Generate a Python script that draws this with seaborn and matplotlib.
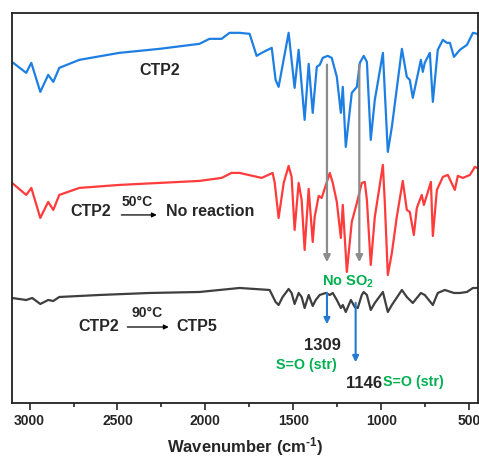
import matplotlib
matplotlib.use("Agg")
import matplotlib.pyplot as plt
import seaborn as sns
import pandas as pd
import numpy as np

# ---- data (wavenumber in cm-1, stacked transmittance in arbitrary units) ----
blue_wn = [3100, 3019, 2990, 2939, 2894, 2865, 2831, 2717, 2489, 2261, 2034, 1977, 1908,
           1863, 1806, 1749, 1709, 1680, 1623, 1601, 1584, 1527, 1493, 1470, 1436, 1413,
           1390, 1367, 1350, 1333, 1305, 1282, 1253, 1230, 1219, 1202, 1168, 1139, 1122,
           1100, 1082, 1060, 1037, 991, 963, 940, 883, 855, 838, 821, 775, 764, 753, 724,
           707, 679, 650, 627, 610, 587, 553, 513, 479, 455]
blue_t = [341, 330, 340, 311, 328, 321, 335, 343, 350, 354, 359, 364, 364,
          370, 370, 369, 347, 350, 355, 323, 316, 370, 315, 353, 283, 339,
          290, 336, 338, 345, 347, 345, 326, 290, 316, 256, 310, 316, 340,
          347, 341, 263, 303, 350, 251, 276, 354, 326, 323, 305, 343, 331, 340, 350,
          301, 353, 363, 360, 360, 346, 353, 358, 370, 369]

red_wn = [3100, 3019, 2990, 2939, 2894, 2865, 2831, 2717, 2489, 2261, 2034, 1908, 1852,
          1806, 1680, 1618, 1606, 1584, 1555, 1527, 1510, 1493, 1470, 1453, 1436, 1413,
          1390, 1379, 1356, 1339, 1293, 1276, 1253, 1230, 1219, 1196, 1168, 1139, 1111,
          1094, 1082, 1060, 1037, 991, 980, 963, 940, 912, 878, 855, 838, 815, 798, 770,
          758, 718, 707, 684, 650, 622, 582, 565, 536, 496, 468, 455]
red_t = [220, 208, 215, 185, 201, 193, 208, 215, 218, 220, 222, 225, 230,
         230, 225, 230, 220, 185, 220, 237, 226, 173, 220, 203, 153, 214,
         161, 186, 207, 205, 230, 220, 201, 165, 198, 131, 181, 200, 220,
         221, 203, 138, 186, 238, 200, 128, 150, 186, 222, 193, 191, 168, 195, 208,
         198, 221, 167, 213, 226, 228, 213, 227, 225, 228, 236, 235]

gray_wn = [3100, 3019, 2985, 2939, 2894, 2865, 2831, 2603, 2318, 2034, 1863, 1806, 1635,
           1601, 1584, 1561, 1527, 1510, 1493, 1470, 1453, 1436, 1413, 1390, 1373, 1350,
           1316, 1293, 1276, 1253, 1230, 1219, 1202, 1173, 1151, 1134, 1111, 1100, 1082,
           1060, 1037, 991, 963, 940, 883, 855, 821, 775, 753, 707, 679, 639, 587, 553,
           513, 479, 455]
gray_t = [105, 103, 105, 99, 103, 102, 106, 108, 110, 111, 114, 115, 113,
          101, 98, 106, 114, 110, 99, 110, 106, 95, 108, 97, 103, 108,
          110, 108, 110, 103, 95, 98, 91, 103, 96, 95, 108, 111, 108,
          93, 100, 111, 91, 98, 113, 106, 100, 110, 108, 98, 110, 113, 110, 110,
          111, 115, 115]

xticks = [3000, 2500, 2000, 1500, 1000, 500]
peak_labels = ["1309", "1146"]
peak_wn = [1309, 1146]
gray_arrow_wn = [1309, 1125]

BLUE = "#1E7FE3"
RED = "#FF3B3B"
DARK = "#3F3F3F"
GREEN = "#00B050"
ARROW_GRAY = "#8C8C8C"
ARROW_BLUE = "#2479D2"

sns.set_style("ticks")
plt.rcParams["font.family"] = ["Liberation Sans", "DejaVu Sans"]
plt.rcParams["font.weight"] = "bold"
plt.rcParams["mathtext.fontset"] = "custom"
plt.rcParams["mathtext.rm"] = "Liberation Sans:bold"
plt.rcParams["mathtext.bf"] = "Liberation Sans:bold"
plt.rcParams["mathtext.it"] = "Liberation Sans:bold"

fig = plt.figure(figsize=(4.79, 4.58), dpi=100)
ax = fig.add_axes([0.025, 0.12, 0.973, 0.852])

for wn, t, c in [(blue_wn, blue_t, BLUE), (red_wn, red_t, RED), (gray_wn, gray_t, DARK)]:
    df = pd.DataFrame({"wn": wn, "t": t})
    sns.lineplot(data=df, x="wn", y="t", color=c, lw=1.6, estimator=None, ax=ax)
for line in ax.get_lines():
    line.set_solid_joinstyle("round")

ax.set_xlim(3100, 450)
ax.set_ylim(0, 390)
ax.set_xticks(xticks)
ax.set_xticklabels([str(v) for v in xticks], fontsize=10, fontweight="bold")
ax.set_xticks([2750, 2250, 1750, 1250, 750], minor=True)
ax.tick_params(axis="x", which="major", direction="out", length=5, width=1.2, pad=3)
ax.tick_params(axis="x", which="minor", direction="out", length=3, width=1.2)
ax.set_yticks([])
ax.set_ylabel("")
ax.set_xlabel(r"Wavenumber (cm$^{\text{-1}}$)", fontsize=12, fontweight="bold", labelpad=5)
for s in ax.spines.values():
    s.set_linewidth(1.3)
    s.set_color("#222222")

# gray arrows
for wn in gray_arrow_wn:
    ax.annotate("", xy=(wn, 138), xytext=(wn, 341),
                arrowprops=dict(arrowstyle="-|>", color=ARROW_GRAY, lw=1.6, mutation_scale=10))
# blue arrows
ax.annotate("", xy=(peak_wn[0], 76), xytext=(peak_wn[0], 113),
            arrowprops=dict(arrowstyle="-|>", color=ARROW_BLUE, lw=1.5, mutation_scale=9))
ax.annotate("", xy=(peak_wn[1], 38), xytext=(peak_wn[1], 103),
            arrowprops=dict(arrowstyle="-|>", color=ARROW_BLUE, lw=1.5, mutation_scale=9))

# labels
ax.text(2261, 332, "CTP2", fontsize=11.5, fontweight="bold", ha="center", va="center")

ax.text(2767, 191, "CTP2", fontsize=11.5, fontweight="bold", ha="left", va="center")
ax.annotate("", xy=(2261, 188), xytext=(2494, 188),
            arrowprops=dict(arrowstyle="-|>", color="black", lw=0.9, mutation_scale=7))
ax.text(2390, 201, "50°C", fontsize=10, fontweight="bold", ha="center", va="center")
ax.text(2222, 191, "No reaction", fontsize=11.5, fontweight="bold", ha="left", va="center")

ax.text(2722, 76, "CTP2", fontsize=11.5, fontweight="bold", ha="left", va="center")
ax.annotate("", xy=(2193, 76), xytext=(2460, 76),
            arrowprops=dict(arrowstyle="-|>", color="black", lw=0.9, mutation_scale=7))
ax.text(2330, 90, "90°C", fontsize=10, fontweight="bold", ha="center", va="center")
ax.text(2165, 76, "CTP5", fontsize=11.5, fontweight="bold", ha="left", va="center")

ax.text(1191, 121, r"No SO$_\mathbf{2}$", fontsize=10.5, fontweight="bold",
        color=GREEN, ha="center", va="center")
ax.text(1333, 58, peak_labels[0], fontsize=12, fontweight="bold", ha="center", va="center")
ax.text(1425, 38, "S=O (str)", fontsize=10.3, fontweight="bold", color=GREEN,
        ha="center", va="center")
ax.text(995, 20, peak_labels[1], fontsize=12, fontweight="bold", ha="right", va="center")
ax.text(992, 21, "S=O (str)", fontsize=10.3, fontweight="bold", color=GREEN,
        ha="left", va="center")

fig.savefig("out.png", dpi=100)
